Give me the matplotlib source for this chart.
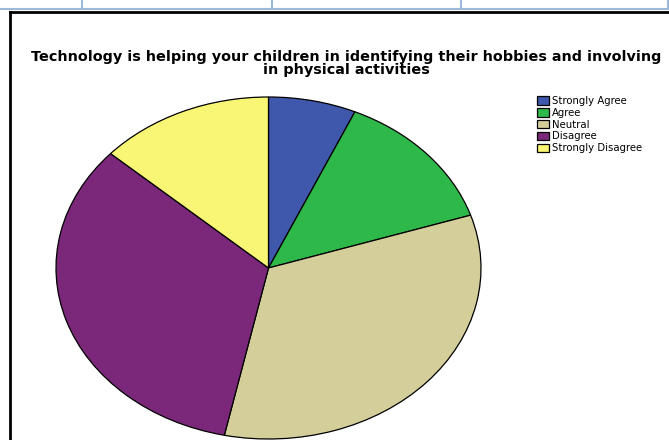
import matplotlib.pyplot as plt
from matplotlib.lines import Line2D

# response counts per answer
labels = ["Strongly Agree", "Agree", "Neutral", "Disagree", "Strongly Disagree"]
counts = [10, 20, 50, 50, 20]
colors = ["#3F58AC", "#2FB84A", "#D4CF9A", "#7B287B", "#FAF675"]

title = ("Technology is helping your children in identifying their hobbies and involving\n"
         "in physical activities")

W, H = 669, 440
fig = plt.figure(figsize=(W / 100, H / 100), dpi=100)
plt.rcParams['font.family'] = ['DejaVu Sans']

def fx(px):
    return px / W

def fy(py):
    return 1 - py / H

# table grid lines above the chart frame
grid_col = "#9DB8DA"
fig.add_artist(Line2D([0, fx(668)], [fy(9), fy(9)], color=grid_col, lw=1.5))
for x in [82, 272, 461, 668]:
    fig.add_artist(Line2D([fx(x), fx(x)], [fy(0), fy(9)], color=grid_col, lw=1.5))

# chart frame (left and top edges visible)
fig.add_artist(Line2D([fx(10), fx(10)], [fy(12), 0], color="black", lw=2))
fig.add_artist(Line2D([fx(10), 1], [fy(12), fy(12)], color="black", lw=2))

# elliptical pie
left, right, top, bottom = 56, 481, 97, 439
ax = fig.add_axes([fx(left), fy(bottom), fx(right - left), (bottom - top) / H])
wedges, _ = ax.pie(counts, colors=colors, startangle=90, counterclock=False,
                   wedgeprops=dict(edgecolor="black", linewidth=0.9))
ax.set_aspect('auto')
ax.set_xlim(-1, 1)
ax.set_ylim(-1, 1)
ax.axis('off')

fig.text(fx(346), fy(50), title, ha='center', va='top', fontsize=10.4,
         fontweight='bold', linespacing=0.92)

fig.legend(wedges, labels, loc='upper left', bbox_to_anchor=(fx(537), fy(96)),
           frameon=False, fontsize=7.3, handlelength=1.2, handleheight=0.9,
           labelspacing=0.18, handletextpad=0.25, borderpad=0, borderaxespad=0)

fig.savefig("out.png", dpi=100)
